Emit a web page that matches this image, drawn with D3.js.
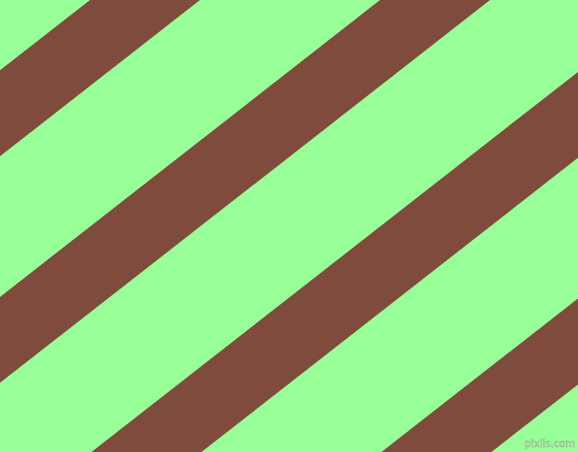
<!DOCTYPE html>
<html>
<head>
<meta charset="utf-8">
<script src="https://cdn.jsdelivr.net/npm/d3@7"></script>
<style>
  body { margin: 0; }
</style>
</head>
<body>
<script>
  let canvasW = 578;
  let canvasH = 452;

  // stripe pattern, 38 degree angle
  const stripes = [0, 1, 2, 3];
  const angle = 38;
  const bgColor = "#99ff99";
  const stripeColor = "#7f4b3d";

  // where the upper edge of each stripe meets the top border
  let xScale = d3.scaleLinear()
    .domain([0, 1])
    .range([90, 380]);
  const stripeW = 110;

  let rad = angle * Math.PI / 180;

  let svg = d3.select("body")
    .append("svg")
      .attr("width", canvasW)
      .attr("height", canvasH);

  svg.append("rect")
    .attr("width", canvasW)
    .attr("height", canvasH)
    .attr("fill", bgColor);

  let g = svg.append("g")
    .attr("transform", "rotate(" + (-angle) + ")");

  g.selectAll("rect.stripe")
    .data(stripes)
    .enter()
      .append("rect")
      .attr("class", "stripe")
      .attr("x", -2000)
      .attr("width", 4000)
      .attr("y", d => xScale(d) * Math.sin(rad))
      .attr("height", stripeW * Math.sin(rad))
      .attr("fill", stripeColor);

  svg.append("text")
    .attr("x", canvasW - 3)
    .attr("y", canvasH - 5)
    .attr("text-anchor", "end")
    .attr("font-family", "DejaVu Sans, sans-serif")
    .attr("font-size", "10px")
    .attr("fill", "#c4e8bc")
    .attr("stroke", "#8aa88a")
    .attr("stroke-width", 0.4)
    .text("pixlis.com");
</script>
</body>
</html>
